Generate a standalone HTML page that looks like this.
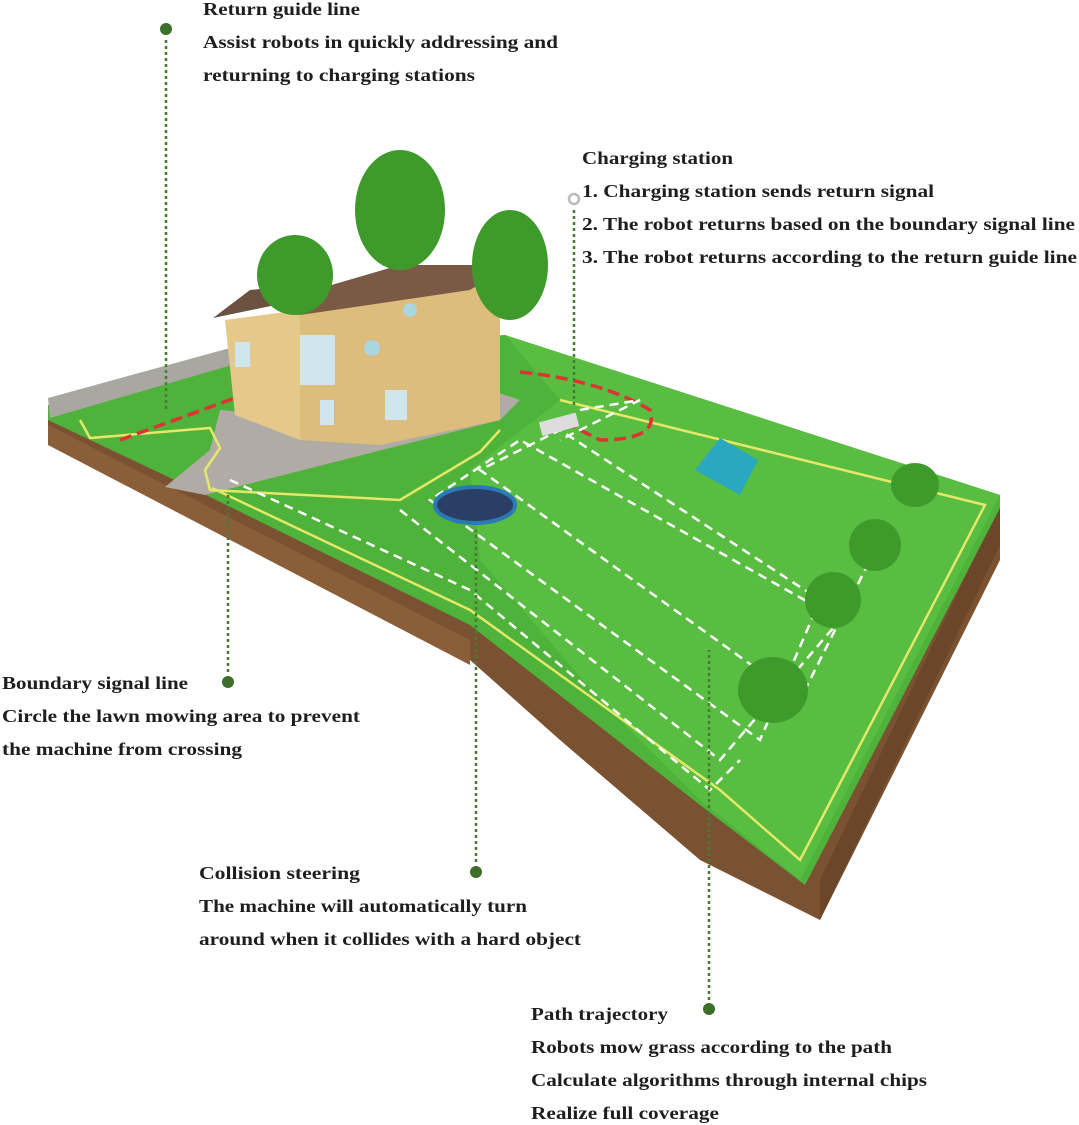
<!DOCTYPE html>
<html><head><meta charset="utf-8"><style>
html,body{margin:0;padding:0;background:#fff;}
svg{display:block}
text{font-family:"Liberation Serif",serif;font-weight:bold;font-size:18px;fill:#1e1e1e}
</style></head><body>
<svg width="1079" height="1125" viewBox="0 0 1079 1125" xmlns="http://www.w3.org/2000/svg">
<!-- soil -->
<polygon points="48,410 48,440 200,520 470,660 560,740 700,860 820,920 1000,560 1000,500 800,880 700,800 470,620 200,490" fill="#7a5232"/>
<polygon points="48,425 48,445 470,665 470,640" fill="#8b5e3a"/>
<polygon points="820,880 820,920 1000,545 1000,505" fill="#6b4629"/>
<!-- lawn -->
<polygon points="48,405 230,352 505,335 1000,495 1000,508 805,885 700,805 470,625 200,492 48,420" fill="#4fb23a"/>
<polygon points="505,335 1000,495 800,880 700,800 600,700 480,560 470,470 560,400" fill="#58bd40"/>
<!-- wall -->
<polygon points="48,398 230,348 232,365 50,418" fill="#a8a8a0"/>
<!-- patio -->
<polygon points="165,487 205,495 500,420 520,400 430,370 330,420 220,410 210,450" fill="#b0aca5"/>
<!-- yellow boundary -->
<polyline points="80,420 90,438 210,428 220,448 205,470 210,490 400,500 480,452 500,430" fill="none" stroke="#e4e86a" stroke-width="2.5"/>
<polyline points="212,488 470,610 720,790 800,860 985,505 560,400" fill="none" stroke="#e4e86a" stroke-width="2.5"/>
<!-- return guide red -->
<polyline points="120,440 235,398" stroke="#d33" stroke-width="3.5" stroke-dasharray="12,6" fill="none"/>
<path d="M520,372 Q600,380 650,410 Q660,440 600,440 L560,420" stroke="#d33" stroke-width="3.5" stroke-dasharray="12,6" fill="none"/>
<!-- white path -->
<g stroke="#fff" stroke-width="2.5" stroke-dasharray="9,6" fill="none">
<polyline points="580,410 640,400 560,440"/>
<polyline points="400,510 720,760 840,620 520,440 430,500 760,740 820,600 560,430 480,470 800,700 870,560"/>
<polyline points="230,480 470,590 710,790 740,760"/>
</g>
<!-- house -->
<polygon points="225,320 300,310 300,440 235,415" fill="#e5c98a"/>
<polygon points="300,300 440,270 500,280 500,420 380,445 300,440" fill="#dcbd7c"/>
<polygon points="213,318 300,300 300,285 250,290" fill="#6b5240"/>
<polygon points="280,300 400,265 510,265 470,290 300,315" fill="#7a5a45"/>
<rect x="300" y="335" width="35" height="50" fill="#cfe6ef"/>
<rect x="385" y="390" width="22" height="30" fill="#cfe6ef"/>
<circle cx="372" cy="348" r="8" fill="#a9d6df"/>
<circle cx="410" cy="310" r="7" fill="#a9d6df"/>
<rect x="235" y="342" width="15" height="25" fill="#cfe6ef"/>
<rect x="320" y="400" width="14" height="25" fill="#cfe6ef"/>
<!-- trees -->
<g fill="#3f9a2c">
<ellipse cx="400" cy="210" rx="45" ry="60"/>
<ellipse cx="295" cy="275" rx="38" ry="40"/>
<ellipse cx="510" cy="265" rx="38" ry="55"/>
<ellipse cx="915" cy="485" rx="24" ry="22"/>
<ellipse cx="875" cy="545" rx="26" ry="26"/>
<ellipse cx="833" cy="600" rx="28" ry="28"/>
<ellipse cx="773" cy="690" rx="35" ry="33"/>
</g>
<!-- trampoline & robots -->
<ellipse cx="475" cy="505" rx="40" ry="18" fill="#2b3f66" stroke="#2a7ab8" stroke-width="4"/>
<polygon points="695,470 720,438 758,460 740,495" fill="#2aa8c0"/>
<rect x="540" y="417" width="38" height="14" fill="#ddd" transform="rotate(-15 560 424)"/>
<!-- connectors -->
<g stroke="#4a7a36" stroke-width="2.5" stroke-dasharray="3,3" fill="none">
<line x1="166" y1="40" x2="166" y2="410"/>
<line x1="574" y1="210" x2="574" y2="405"/>
<line x1="228" y1="672" x2="228" y2="495"/>
<line x1="476" y1="862" x2="476" y2="530"/>
<line x1="709" y1="1000" x2="709" y2="650"/>
</g>
<g fill="#3d6f2b">
<circle cx="166" cy="29" r="6"/><circle cx="228" cy="682" r="6"/><circle cx="476" cy="872" r="6"/><circle cx="709" cy="1009" r="6"/>
</g>
<circle cx="574" cy="199" r="5" fill="none" stroke="#bbb" stroke-width="2.5"/>
<!-- text -->
<g lengthAdjust="spacingAndGlyphs">
<text x="203" y="15" textLength="157" lengthAdjust="spacingAndGlyphs">Return guide line</text>
<text x="203" y="48" textLength="355" lengthAdjust="spacingAndGlyphs">Assist robots in quickly addressing and</text>
<text x="203" y="81" textLength="272" lengthAdjust="spacingAndGlyphs">returning to charging stations</text>
<text x="582" y="164" textLength="151" lengthAdjust="spacingAndGlyphs">Charging station</text>
<text x="582" y="197" textLength="352" lengthAdjust="spacingAndGlyphs">1. Charging station sends return signal</text>
<text x="582" y="230" textLength="493" lengthAdjust="spacingAndGlyphs">2. The robot returns based on the boundary signal line</text>
<text x="582" y="263" textLength="495" lengthAdjust="spacingAndGlyphs">3. The robot returns according to the return guide line</text>
<text x="2" y="689" textLength="186" lengthAdjust="spacingAndGlyphs">Boundary signal line</text>
<text x="2" y="722" textLength="358" lengthAdjust="spacingAndGlyphs">Circle the lawn mowing area to prevent</text>
<text x="2" y="755" textLength="240" lengthAdjust="spacingAndGlyphs">the machine from crossing</text>
<text x="199" y="879" textLength="161" lengthAdjust="spacingAndGlyphs">Collision steering</text>
<text x="199" y="912" textLength="328" lengthAdjust="spacingAndGlyphs">The machine will automatically turn</text>
<text x="199" y="945" textLength="382" lengthAdjust="spacingAndGlyphs">around when it collides with a hard object</text>
<text x="531" y="1020" textLength="137" lengthAdjust="spacingAndGlyphs">Path trajectory</text>
<text x="531" y="1053" textLength="361" lengthAdjust="spacingAndGlyphs">Robots mow grass according to the path</text>
<text x="531" y="1086" textLength="396" lengthAdjust="spacingAndGlyphs">Calculate algorithms through internal chips</text>
<text x="531" y="1119" textLength="188" lengthAdjust="spacingAndGlyphs">Realize full coverage</text>
</g>
</svg>
</body></html>
